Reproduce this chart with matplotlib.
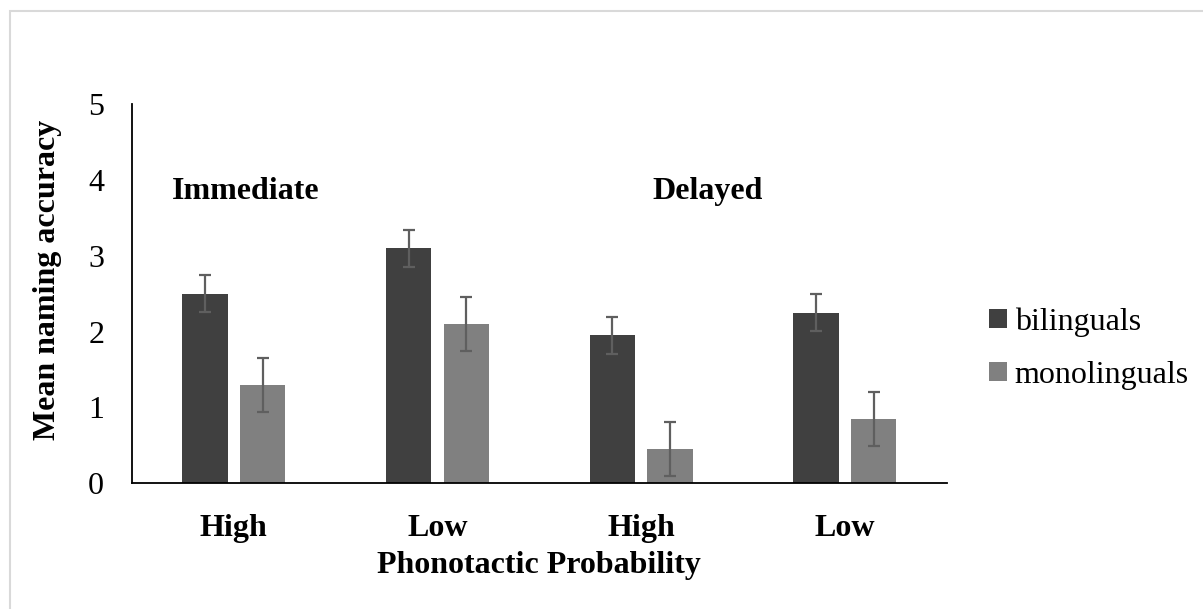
import numpy as np
import matplotlib; matplotlib.use("Agg")
import matplotlib.pyplot as plt
from matplotlib.patches import Rectangle

# ---- data ----
categories = ["High", "Low", "High", "Low"]
bilinguals = [2.5, 3.1, 1.95, 2.25]
bil_err = [0.245, 0.245, 0.245, 0.245]
monolinguals = [1.3, 2.1, 0.45, 0.85]
mono_err = [0.355, 0.355, 0.355, 0.355]
group_labels = ["Immediate", "Delayed"]

plt.rcParams.update({"font.family": "Liberation Serif", "font.size": 23})

fig = plt.figure(figsize=(12.03, 6.09), dpi=100)
ax = fig.add_axes([132 / 1203, 1 - 483.3 / 609, (946.7 - 132) / 1203, (483.3 - 104) / 609])

xs = np.arange(len(categories))
w, off = 0.222, 0.1415
ekw = dict(ecolor="#5f5f5f", elinewidth=1.6, capsize=4.5, capthick=1.6)
ax.bar(xs - off, bilinguals, w, yerr=bil_err, color="#404040", label="bilinguals", error_kw=ekw)
ax.bar(xs + off, monolinguals, w, yerr=mono_err, color="#808080", label="monolinguals", error_kw=ekw)

ax.set_xlim(-0.5, len(categories) - 0.5)
ax.set_ylim(0, 5)
ax.set_yticks(range(6))
ax.set_xticks(xs)
ax.set_xticklabels(categories, fontweight="bold")
ax.tick_params(axis="both", length=0)
ax.tick_params(axis="y", pad=20)
ax.tick_params(axis="x", pad=22)
ax.set_xlabel("Phonotactic Probability", fontweight="bold", labelpad=6)
ax.set_ylabel("Mean naming accuracy", fontweight="bold")
ax.yaxis.set_label_coords(-0.086, 0.536)
for s in ("top", "right"):
    ax.spines[s].set_visible(False)
for s in ("left", "bottom"):
    ax.spines[s].set_linewidth(1.3)

ax.text(0.057, 3.75, group_labels[0], ha="center", va="baseline", fontweight="bold")
ax.text(2.327, 3.75, group_labels[1], ha="center", va="baseline", fontweight="bold")

ax.legend(loc="center left", bbox_to_anchor=(1.017, 0.355), frameon=False,
          handlelength=0.55, handleheight=0.55, handletextpad=0.25, labelspacing=0.75)

# light frame around the chart area
fig.patches.append(Rectangle((10 / 1203, -0.1), 1.2, 1 - 11 / 609 + 0.1, transform=fig.transFigure,
                             fill=False, ec="#d9d9d9", lw=1.5))

fig.savefig("out.png", dpi=100)
